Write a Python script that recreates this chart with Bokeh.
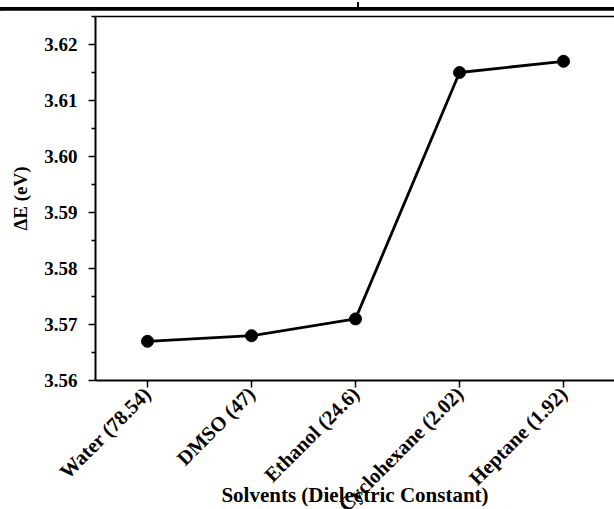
from math import pi

from bokeh.embed import file_html
from bokeh.layouts import column
from bokeh.models import Div, FixedTicker, LinearAxis, Range1d, NumeralTickFormatter
from bokeh.plotting import figure
from bokeh.resources import INLINE

# Energy gap of the molecule in each solvent
solvents = ["Water (78.54)", "DMSO (47)", "Ethanol (24.6)",
            "Cyclohexane (2.02)", "Heptane (1.92)"]
delta_e = [3.567, 3.568, 3.571, 3.615, 3.617]
y_ticks = [3.56, 3.57, 3.58, 3.59, 3.60, 3.61, 3.62]

positions = list(range(1, len(solvents) + 1))

FONT = "Liberation Serif"

# Page rule above the chart
band = Div(width=614, height=10, margin=0, text=(
    '<div style="position:relative;width:614px;height:10px;margin:0;padding:0;">'
    '<div style="position:absolute;left:0;top:5px;width:614px;height:3.5px;background:#000;"></div>'
    '<div style="position:absolute;left:357px;top:0;width:1.5px;height:5px;background:#000;"></div>'
    '</div>'))

p = figure(width=614, height=499,
           x_range=Range1d(0.5, 5.49), y_range=Range1d(3.56, 3.625),
           toolbar_location=None, output_backend="svg",
           min_border_left=95, min_border_right=0,
           min_border_top=6, min_border_bottom=127, margin=0)
p.grid.visible = False
p.outline_line_color = None

p.line(positions, delta_e, line_color="black", line_width=2.8)
p.scatter(positions, delta_e, size=12, fill_color="black", line_color="black")

xa = p.below[0]
ya = p.left[0]

xa.ticker = FixedTicker(ticks=positions)
xa.major_label_overrides = {i: s for i, s in zip(positions, solvents)}
xa.major_label_orientation = pi / 4
xa.axis_label = "Solvents (Dielectric Constant)"
xa.axis_label_standoff = -44

ya.ticker = FixedTicker(ticks=y_ticks,
                        minor_ticks=[t + 0.005 for t in y_ticks])
ya.formatter = NumeralTickFormatter(format="0.00")
ya.axis_label = "\u0394E (eV)"
ya.axis_label_standoff = 10

for ax in (xa, ya):
    ax.axis_line_width = 2
    ax.major_tick_line_width = 1.5
    ax.minor_tick_line_width = 1.5
    ax.major_tick_out = 7
    ax.major_tick_in = 0
    ax.minor_tick_out = 4
    ax.minor_tick_in = 0
    ax.major_label_text_font = FONT
    ax.major_label_text_font_style = "bold"
    ax.major_label_text_font_size = "19px"
    ax.major_label_text_color = "black"
    ax.axis_label_text_font = FONT
    ax.axis_label_text_font_style = "bold"
    ax.axis_label_text_color = "black"

xa.major_label_text_font_size = "20.5px"
xa.major_label_standoff = 3
ya.major_label_standoff = 11
xa.minor_tick_out = 0
xa.axis_label_text_font_size = "21px"
ya.axis_label_text_font_size = "19px"

# top spine without ticks
top = LinearAxis(ticker=FixedTicker(ticks=[]), major_label_text_font_size="0px",
                 major_tick_out=0, minor_tick_out=0, axis_line_width=1.5)
p.add_layout(top, "above")

layout = column(band, p, margin=0, spacing=0)
open("out.html", "w").write(file_html(layout, INLINE))
